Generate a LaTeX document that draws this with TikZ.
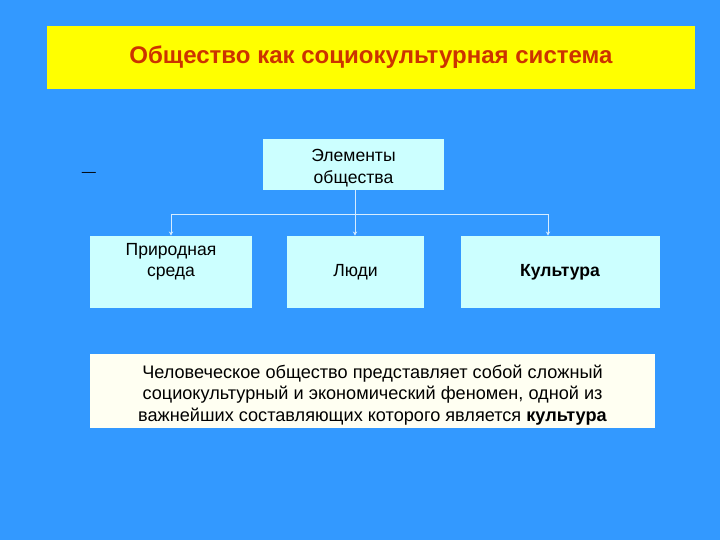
\documentclass[tikz,border=0pt]{standalone}
\usepackage{fontspec}
\setmainfont{Liberation Sans}
\usepackage{tikz}
\usetikzlibrary{arrows.meta, positioning}
\definecolor{slideblue}{HTML}{3399FF}
\definecolor{banneryellow}{HTML}{FFFF00}
\definecolor{titlered}{HTML}{CC3300}
\definecolor{boxcyan}{HTML}{CCFFFF}
\definecolor{notecream}{HTML}{FFFFF2}
\definecolor{linkgray}{HTML}{D6ECFF}
\tikzset{
  % title banner
  banner/.style={rectangle, fill=banneryellow, minimum width=16.2cm,
                 minimum height=1.575cm, font=\fontsize{17.1}{20}\selectfont\bfseries,
                 text=titlered},
  % element boxes
  elembox/.style={rectangle, fill=boxcyan, minimum height=1.8cm,
                  font=\fontsize{12.5}{15.5}\selectfont, align=center, inner sep=0pt},
  % note box under the tree
  notebox/.style={rectangle, fill=notecream, minimum width=14.125cm,
                  minimum height=1.85cm, font=\fontsize{12.9}{15}\selectfont,
                  align=center, inner sep=0pt},
  % tree connectors
  link/.style={draw=linkgray, line width=0.6pt},
  larrow/.style={link, -{Stealth[length=3pt, width=3pt]}},
}

\begin{document}
\begin{tikzpicture}
\fill[slideblue] (0,0) rectangle (18,-13.5);
\useasboundingbox (0,0) rectangle (18,-13.5);

% -- Title ------------------------------------------------------------------
\node[banner] (title) at (9.275, -1.4375) {Общество как социокультурная система};

% -- Root ---------------------------------------------------------------------
\node[elembox, minimum width=4.525cm, minimum height=1.275cm,
      text height=0.95cm, text depth=0pt]
  (elem) at (8.8375, -4.1125) {Элементы\\общества};
\node[font=\fontsize{10}{12}\selectfont] (mark) at (2.225, -4.36) {—};

% -- Elements ---------------------------------------------------------------
\node[elembox, minimum width=4.05cm, text depth=0.6cm] (nature) at (4.275, -6.8)
  {Природная\\среда};
\node[elembox, minimum width=3.425cm] (people)  at (8.8875, -6.8)  {Люди};
\node[elembox, minimum width=4.975cm] (culture) at (14.0, -6.8)    {\bfseries Культура};

% -- Note -------------------------------------------------------------------
\node[notebox, text height=1.5cm, text depth=0pt] (note) at (9.3125, -9.775)
  {Человеческое общество представляет собой сложный\\
   социокультурный и экономический феномен, одной из\\
   важнейших составляющих которого является \textbf{культура}};

% -- Connectors -------------------------------------------------------------
\coordinate (bus) at (8.875, -5.35);
\draw[link]   (elem.south -| bus) -- (bus);
\draw[larrow] (bus) -- (people.north -| bus);
\draw[larrow] (bus) -| (nature.north);
\draw[larrow] (bus) -| ([xshift=-0.3cm]culture.north);

\end{tikzpicture}
\end{document}
